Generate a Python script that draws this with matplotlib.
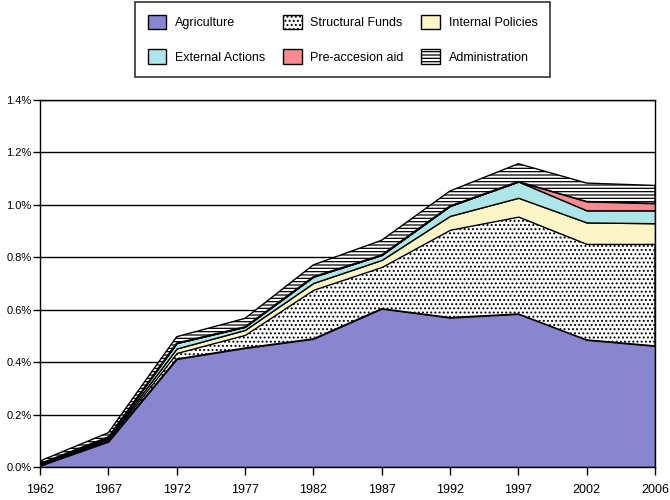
import numpy as np
import matplotlib
matplotlib.use('Agg')
import matplotlib.pyplot as plt
from matplotlib.patches import Patch

plt.rcParams['font.family'] = ['Liberation Sans', 'DejaVu Sans']
plt.rcParams['hatch.linewidth'] = 0.9

years = ['1962', '1967', '1972', '1977', '1982', '1987', '1992', '1997', '2002', '2006']

# share of GNI (%), each layer on top of the one below
agriculture = [0.005, 0.097, 0.412, 0.454, 0.489, 0.604, 0.570, 0.584, 0.485, 0.462]
structural = [0.003, 0.007, 0.023, 0.050, 0.187, 0.159, 0.335, 0.371, 0.366, 0.389]
internal = [0.003, 0.006, 0.017, 0.019, 0.026, 0.027, 0.053, 0.072, 0.082, 0.079]
external = [0.002, 0.005, 0.021, 0.012, 0.024, 0.019, 0.038, 0.062, 0.046, 0.049]
preaccession = [0, 0, 0, 0, 0, 0, 0, 0, 0.034, 0.027]
administration = [0.010, 0.016, 0.024, 0.032, 0.045, 0.056, 0.057, 0.068, 0.070, 0.068]

layers = [
    ('Agriculture', agriculture, '#8a85cf', None),
    ('Structural Funds', structural, 'white', '....'),
    ('Internal Policies', internal, '#fcf6c6', None),
    ('External Actions', external, '#ade5e8', None),
    ('Pre-accesion aid', preaccession, '#f88a90', None),
    ('Administration', administration, 'white', '-----'),
]

fig = plt.figure(figsize=(6.7, 5), dpi=100)
ax = fig.add_axes([40 / 670, 33 / 500, 615 / 670, 367 / 500])

x = np.arange(len(years))
bottom = np.zeros(len(years))
handles = {}
for lab, vals, clr, hatch in layers:
    top = bottom + np.array(vals)
    ax.fill_between(x, bottom, top, facecolor=clr, edgecolor='black',
                    hatch=hatch, linewidth=1.0, zorder=2)
    handles[lab] = Patch(facecolor=clr, edgecolor='black', hatch=hatch, linewidth=1.0)
    bottom = top

ax.set_xlim(0, len(years) - 1)
ax.set_ylim(0, 1.4)
ax.set_xticks(x)
ax.set_xticklabels(years)
yt = np.arange(0, 1.41, 0.2)
ax.set_yticks(yt)
ax.set_yticklabels([f'{v:.1f}%' for v in yt])
ax.yaxis.grid(True, color='black', linewidth=1.0)
ax.set_axisbelow(True)
ax.tick_params(axis='x', labelsize=9, length=6, width=1.0, color='black', pad=6)
ax.tick_params(axis='y', labelsize=8, length=5, width=1.0, color='black', pad=1)
for s in ax.spines.values():
    s.set_linewidth(1.0)
    s.set_zorder(3)

order = ['Agriculture', 'External Actions', 'Structural Funds', 'Pre-accesion aid',
         'Internal Policies', 'Administration']
leg = fig.legend([handles[k] for k in order], order, ncol=3,
                 loc='upper left', bbox_to_anchor=(135 / 670, 1 - 2 / 500),
                 borderaxespad=0,
                 frameon=True, fancybox=False, edgecolor='black', fontsize=9,
                 handlelength=1.5, handleheight=1.45, handletextpad=0.7,
                 columnspacing=1.4, labelspacing=1.6, borderpad=1.0)
leg.get_frame().set_linewidth(1.2)

fig.savefig('out.png', dpi=100)
